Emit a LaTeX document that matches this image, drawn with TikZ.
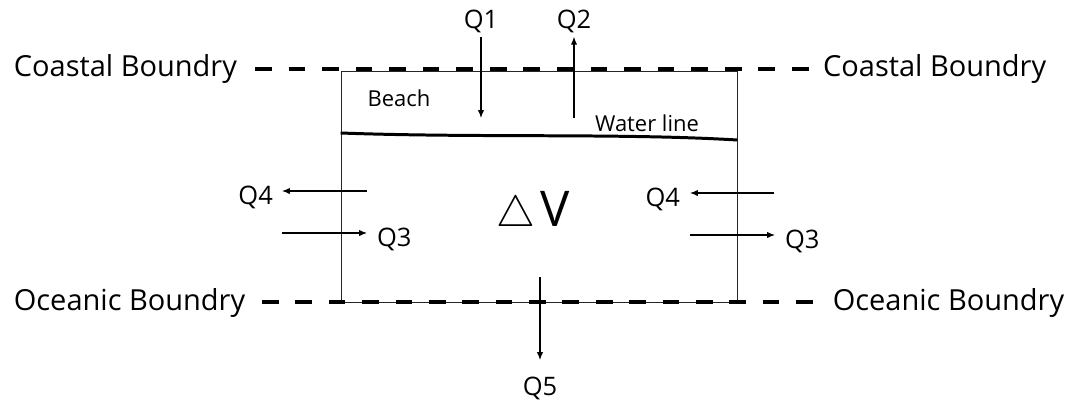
\documentclass[tikz,border=0pt]{standalone}
\usepackage{fontspec}
\setmainfont{Open Sans}
\usetikzlibrary{arrows.meta, positioning}
\tikzset{
  %% ── Lines ────────────────────────────────────────────────────────────
  %% The two boundaries are heavy dashes, the control cell is a thin frame.
  limite/.style    = {draw=black, line width=2pt, dash pattern=on 9.5pt off 9.6pt},
  cellule/.style   = {draw=black!85, line width=0.5pt, inner sep=0pt},
  ligneEau/.style  = {draw=black, line width=1.7pt},
  %%
  %% ── Arrows ───────────────────────────────────────────────────────────
  flux/.style      = {-{Latex[length=4.5pt, width=3.6pt]}, draw=black,
                      line width=0.6pt},
  %%
  %% ── Text ─────────────────────────────────────────────────────────────
  titreLimite/.style = {font=\fontsize{16.5}{19}\selectfont, inner sep=2pt},
  etiquette/.style   = {font=\fontsize{14.5}{17}\selectfont, inner sep=2pt},
  etiquetteLat/.style = {etiquette, yshift=-3.4pt},
  etiquettePetite/.style = {font=\fontsize{12.5}{14}\selectfont, inner sep=2pt},
}

\begin{document}
\begin{tikzpicture}[x=0.02cm, y=-0.02cm]
\useasboundingbox (0,0) rectangle (1076,403);

% control cell and boundaries
\node[cellule, minimum width=7.92cm, minimum height=4.62cm] (vol) at (539,186.5) {};
\node[titreLimite, anchor=west] (cotG) at (10,69) {Coastal Boundry};
\node[titreLimite, anchor=east] (cotD) at (1050,69) {Coastal Boundry};
\node[titreLimite, anchor=west] (oceG) at (10,303) {Oceanic Boundry};
\node[titreLimite, anchor=east] (oceD) at (1068,303) {Oceanic Boundry};
\coordinate (hautG) at (255,69);
\coordinate (hautD) at (810,69);
\coordinate (basG) at (262,302);
\coordinate (basD) at (815,302);
\draw[limite] (hautG) -- (hautD);
\draw[limite, dash pattern=on 9.5pt off 9.5pt] (basG) -- (basD);

% water line
\coordinate (eauG) at (vol.west |- 0,133);
\coordinate (eauD) at (vol.east |- 0,140);
\draw[ligneEau] (eauG) .. controls (480,138) and (620,133) .. (eauD);
\node[etiquettePetite] (plage) at (399,98) {Beach};
\node[etiquettePetite] (eau) at (647,123) {Water line};

\node[font=\fontsize{28}{32}\selectfont, inner sep=0pt, anchor=base] (dv) at (533,226)
     {$\bigtriangleup$\kern3pt V};

% fluxes through the top
\coordinate (q1debut) at (481,35);
\coordinate (q1bout) at (481,118);
\coordinate (q2pied) at (574,118);
\coordinate (q2bout) at (574,35);
\node[etiquette, above=-1pt of q1debut] (q1) {Q1};
\node[etiquette, above=-1pt of q2bout] (q2) {Q2};
\draw[flux] (q1) -- (q1bout);
\draw[flux] (q2pied) -- (q2);

% fluxes through the sides
\coordinate (q4gpied) at (367,191);
\coordinate (q4gbout) at (282,191);
\coordinate (q3gpied) at (282,233);
\coordinate (q3gbout) at (367,233);
\node[etiquetteLat, left=3pt of q4gbout] (q4g) {Q4};
\node[etiquetteLat, right=3.5pt of q3gbout] (q3g) {Q3};
\draw[flux] (q4gpied) -- (q4gbout);
\draw[flux] (q3gpied) -- (q3gbout);

\coordinate (q4dpied) at (774,193);
\coordinate (q4dbout) at (690,193);
\coordinate (q3dpied) at (690,235);
\coordinate (q3dbout) at (775,235);
\node[etiquetteLat, left=3.5pt of q4dbout] (q4d) {Q4};
\node[etiquetteLat, right=3.5pt of q3dbout] (q3d) {Q3};
\draw[flux] (q4dpied) -- (q4dbout);
\draw[flux] (q3dpied) -- (q3dbout);

% flux through the bottom
\coordinate (q5pied) at (540,277);
\coordinate (q5bout) at (540,360);
\node[etiquette, below=7.5pt of q5bout] (q5) {Q5};
\draw[flux] (q5pied) -- (q5bout);

\end{tikzpicture}
\end{document}
